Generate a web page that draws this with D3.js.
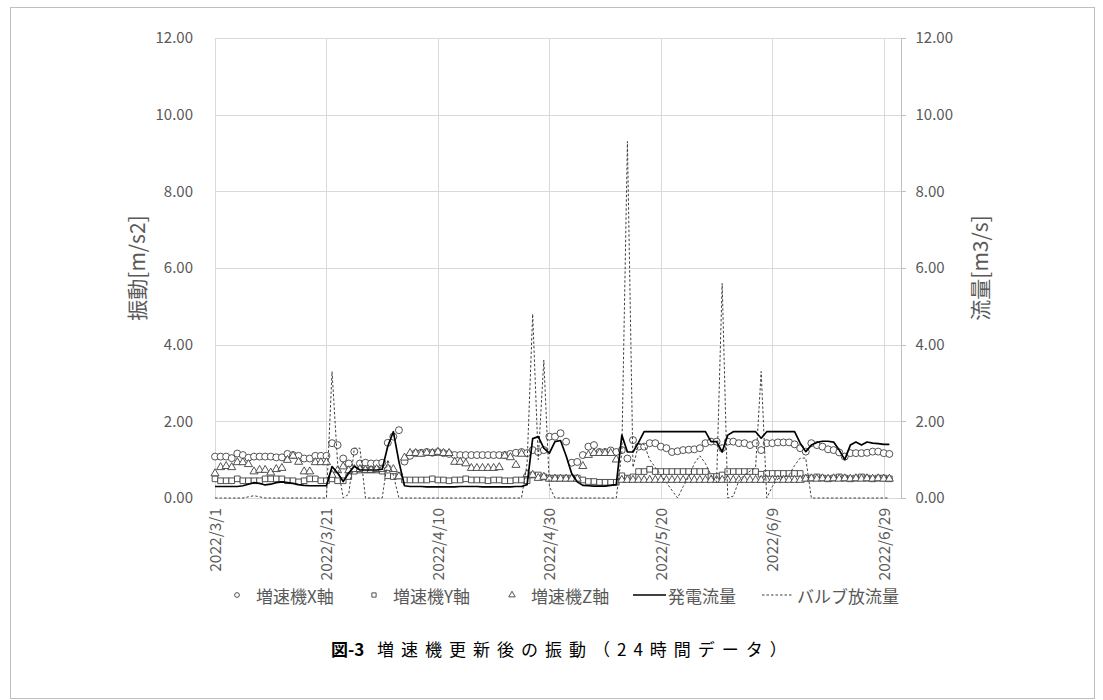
<!DOCTYPE html>
<html>
<head>
<meta charset="utf-8">
<script src="https://cdn.jsdelivr.net/npm/d3@7"></script>
<style>
  html, body { margin: 0; padding: 0; background: #fff; }
  svg { display: block; }
  text { font-family: "Noto Sans CJK JP", "Noto Sans", sans-serif; }
</style>
</head>
<body>
<svg id="chart" width="1103" height="700"></svg>
<script>
// Daily readings from 2022/3/1 onward (one value per day)
const startDate = "2022/3/1";
const endDate = "2022/7/2";

// 増速機X軸 vibration [m/s2]
const gearX = [
  1.08, 1.08, 1.08, 1.04, 1.16, 1.12, 1.05, 1.08, 1.08, 1.08,
  1.08, 1.06, 1.06, 1.15, 1.12, 1.10, 1.03, 1.03, 1.10, 1.10,
  1.10, 1.43, 1.38, 1.03, 0.90, 1.21, 0.90, 0.92, 0.90, 0.90,
  0.92, 1.44, 1.60, 1.77, 0.95, 1.10, 1.17, 1.18, 1.20, 1.18,
  1.20, 1.17, 1.15, 1.12, 1.12, 1.12, 1.12, 1.12, 1.12, 1.12,
  1.12, 1.12, 1.12, 1.15, 1.18, 1.20, 1.17, 1.25, 1.20, 1.25,
  1.60, 1.60, 1.69, 1.47, 0.92, 0.94, 1.12, 1.34, 1.38, 1.20,
  1.20, 1.24, 1.20, 1.25, 1.03, 1.51, 1.34, 1.34, 1.43, 1.43,
  1.34, 1.30, 1.20, 1.22, 1.25, 1.26, 1.27, 1.30, 1.43, 1.47,
  1.47, 1.30, 1.47, 1.47, 1.43, 1.43, 1.38, 1.43, 1.25, 1.43,
  1.43, 1.45, 1.45, 1.45, 1.40, 1.30, 1.21, 1.43, 1.38, 1.34,
  1.27, 1.25, 1.19, 1.08, 1.17, 1.17, 1.17, 1.18, 1.21, 1.21,
  1.17, 1.15
];

// 増速機Y軸 vibration [m/s2]
const gearY = [
  0.50, 0.45, 0.45, 0.45, 0.50, 0.45, 0.45, 0.45, 0.45, 0.50,
  0.50, 0.50, 0.50, 0.45, 0.45, 0.42, 0.45, 0.50, 0.50, 0.45,
  0.45, 0.50, 0.45, 0.45, 0.56, 0.70, 0.73, 0.73, 0.73, 0.73,
  0.70, 0.58, 0.56, 0.58, 0.47, 0.47, 0.47, 0.47, 0.47, 0.50,
  0.47, 0.47, 0.45, 0.47, 0.47, 0.50, 0.47, 0.47, 0.47, 0.45,
  0.47, 0.47, 0.45, 0.45, 0.47, 0.47, 0.45, 0.60, 0.60, 0.55,
  0.52, 0.52, 0.52, 0.52, 0.52, 0.52, 0.47, 0.43, 0.43, 0.41,
  0.41, 0.41, 0.41, 0.58, 0.52, 0.55, 0.69, 0.69, 0.75, 0.69,
  0.69, 0.69, 0.69, 0.69, 0.69, 0.69, 0.69, 0.69, 0.69, 0.56,
  0.56, 0.60, 0.69, 0.69, 0.69, 0.69, 0.69, 0.69, 0.62, 0.64,
  0.64, 0.64, 0.64, 0.64, 0.64, 0.64, 0.52, 0.52, 0.55, 0.52,
  0.50, 0.52, 0.55, 0.52, 0.50, 0.52, 0.55, 0.52, 0.50, 0.52,
  0.52, 0.50
];

// 増速機Z軸 vibration [m/s2]
const gearZ = [
  0.64, 0.80, 0.83, 0.80, 0.93, 0.93, 0.88, 0.69, 0.73, 0.73,
  0.66, 0.75, 0.78, 0.99, 1.10, 0.94, 0.69, 0.69, 0.93, 0.93,
  0.93, 0.60, 0.72, 0.82, 0.72, 0.75, 0.75, 0.73, 0.73, 0.75,
  0.75, 0.78, 0.75, 0.56, 1.05, 1.17, 1.17, 1.15, 1.18, 1.17,
  1.20, 1.17, 1.17, 0.94, 0.94, 0.90, 0.78, 0.78, 0.78, 0.78,
  0.78, 0.80, 1.10, 1.06, 0.86, 1.15, 0.62, 0.60, 0.52, 0.55,
  0.50, 0.50, 0.50, 0.50, 0.50, 0.50, 0.83, 1.12, 1.17, 1.17,
  1.17, 1.17, 1.00, 0.47, 0.47, 0.47, 0.47, 0.47, 0.47, 0.47,
  0.47, 0.47, 0.47, 0.47, 0.47, 0.47, 0.47, 0.47, 0.47, 0.47,
  0.47, 0.47, 0.47, 0.47, 0.47, 0.47, 0.47, 0.47, 0.47, 0.47,
  0.47, 0.47, 0.47, 0.47, 0.47, 0.47, 0.50, 0.51, 0.50, 0.51,
  0.50, 0.51, 0.50, 0.51, 0.50, 0.51, 0.50, 0.51, 0.50, 0.51,
  0.50, 0.50
];

// 発電流量 [m3/s]
const genFlow = [
  0.30, 0.30, 0.30, 0.30, 0.30, 0.32, 0.36, 0.40, 0.38, 0.34,
  0.36, 0.40, 0.42, 0.40, 0.38, 0.35, 0.33, 0.32, 0.32, 0.32,
  0.32, 0.82, 0.65, 0.43, 0.65, 0.83, 0.73, 0.73, 0.73, 0.73,
  0.75, 1.35, 1.73, 0.95, 0.32, 0.30, 0.30, 0.30, 0.29, 0.29,
  0.29, 0.29, 0.29, 0.29, 0.30, 0.30, 0.30, 0.30, 0.29, 0.29,
  0.29, 0.29, 0.29, 0.29, 0.30, 0.30, 0.35, 1.55, 1.60, 1.30,
  1.17, 1.47, 1.50, 1.10, 0.64, 0.42, 0.33, 0.32, 0.31, 0.31,
  0.31, 0.33, 0.35, 1.64, 1.20, 1.20, 1.45, 1.73, 1.73, 1.73,
  1.73, 1.73, 1.73, 1.73, 1.73, 1.73, 1.73, 1.73, 1.73, 1.47,
  1.47, 1.20, 1.64, 1.73, 1.73, 1.73, 1.73, 1.73, 1.56, 1.73,
  1.73, 1.73, 1.73, 1.73, 1.73, 1.43, 1.21, 1.38, 1.45, 1.48,
  1.48, 1.46, 1.25, 1.00, 1.38, 1.46, 1.38, 1.46, 1.43, 1.42,
  1.40, 1.40
];

// バルブ放流量 [m3/s]
const valveFlow = [
  0.00, 0.00, 0.00, 0.00, 0.00, 0.00, 0.03, 0.06, 0.03, 0.00,
  0.00, 0.00, 0.00, 0.00, 0.00, 0.00, 0.00, 0.00, 0.00, 0.00,
  0.00, 3.30, 0.90, 0.00, 0.10, 1.30, 1.30, 0.00, 0.00, 0.00,
  0.00, 1.00, 0.60, 0.00, 0.00, 0.00, 0.00, 0.00, 0.00, 0.00,
  0.00, 0.00, 0.00, 0.00, 0.00, 0.00, 0.00, 0.00, 0.00, 0.00,
  0.00, 0.00, 0.00, 0.00, 0.00, 0.00, 0.90, 4.80, 1.00, 3.60,
  0.30, 0.00, 0.00, 0.00, 0.00, 0.00, 0.00, 0.00, 0.00, 0.00,
  0.00, 0.00, 0.00, 1.20, 9.30, 0.80, 1.40, 1.40, 1.00, 0.80,
  0.60, 0.40, 0.20, 0.00, 0.30, 0.55, 0.90, 1.10, 0.90, 0.60,
  0.40, 5.60, 0.00, 0.05, 0.45, 0.60, 0.70, 0.80, 3.30, 0.00,
  0.30, 0.50, 0.55, 0.60, 0.85, 1.04, 1.04, 0.00, 0.00, 0.00,
  0.00, 0.00, 0.00, 0.00, 0.00, 0.00, 0.00, 0.00, 0.00, 0.00,
  0.00, 0.00
];

const xTickLabels = ["2022/3/1", "2022/3/21", "2022/4/10", "2022/4/30", "2022/5/20", "2022/6/9", "2022/6/29"];
const yTickValues = [0, 2, 4, 6, 8, 10, 12];
const seriesNames = ["増速機X軸", "増速機Y軸", "増速機Z軸", "発電流量", "バルブ放流量"];
const leftTitle = "振動[m/s2]";
const rightTitle = "流量[m3/s]";
const captionHead = "図-3";
const captionBody = "増速機更新後の振動（24時間データ）";

const parseDate = d3.timeParse("%Y/%-m/%-d");
const fmtTick = d3.timeFormat("%Y/%-m/%-d");
const t0 = parseDate(startDate);
const dates = gearX.map((_, i) => d3.timeDay.offset(t0, i));

const svg = d3.select("#chart");
const W = 1103, H = 700;
const plot = { left: 215, right: 900.5, top: 38, bottom: 498 };

svg.append("rect").attr("x", 0).attr("y", 0).attr("width", W).attr("height", H).attr("fill", "#fff");
// outer frame
svg.append("rect").attr("x", 10.5).attr("y", 7.5).attr("width", 1084).attr("height", 691)
  .attr("fill", "none").attr("stroke", "#bfbfbf").attr("stroke-width", 1);

const x = d3.scaleTime().domain([t0, parseDate(endDate)]).range([plot.left, plot.right]);
const yL = d3.scaleLinear().domain([0, 12]).range([plot.bottom, plot.top]);
const yR = d3.scaleLinear().domain([0, 12]).range([plot.bottom, plot.top]);

const tickDates = xTickLabels.map(parseDate);
const gridColor = "#d9d9d9";
const labelColor = "#595959";
const numFont = "'Noto Sans', sans-serif";

// horizontal gridlines
svg.append("g")
  .attr("transform", `translate(${plot.left},0)`)
  .call(d3.axisLeft(yL).tickValues(yTickValues).tickSize(-(plot.right - plot.left)).tickFormat(""))
  .call(g => g.select(".domain").remove())
  .call(g => g.selectAll(".tick line").attr("stroke", gridColor).attr("stroke-width", 1).attr("shape-rendering", "crispEdges"));

// vertical gridlines at date ticks
svg.append("g")
  .attr("transform", `translate(0,${plot.bottom})`)
  .call(d3.axisBottom(x).tickValues(tickDates).tickSize(-(plot.bottom - plot.top)).tickFormat(""))
  .call(g => g.select(".domain").remove())
  .call(g => g.selectAll(".tick line").attr("stroke", gridColor).attr("stroke-width", 1).attr("shape-rendering", "crispEdges"));

// left axis labels
svg.append("g")
  .attr("transform", `translate(${plot.left},0)`)
  .call(d3.axisLeft(yL).tickValues(yTickValues).tickSize(0).tickPadding(22).tickFormat(d3.format(".2f")))
  .call(g => g.select(".domain").attr("stroke", gridColor))
  .call(g => g.selectAll(".tick text").attr("fill", labelColor).attr("font-size", 15)
    .attr("font-family", numFont));

// right axis with outward ticks
svg.append("g")
  .attr("transform", `translate(${plot.right},0)`)
  .call(d3.axisRight(yR).tickValues(yTickValues).tickSize(5).tickPadding(10).tickFormat(d3.format(".2f")))
  .call(g => g.select(".domain").attr("stroke", "#bfbfbf").attr("shape-rendering", "crispEdges"))
  .call(g => g.selectAll(".tick line").attr("stroke", "#bfbfbf").attr("shape-rendering", "crispEdges"))
  .call(g => g.selectAll(".tick text").attr("fill", labelColor).attr("font-size", 15)
    .attr("font-family", numFont));

// bottom axis: rotated date labels
const xAxisG = svg.append("g")
  .attr("transform", `translate(0,${plot.bottom})`)
  .call(d3.axisBottom(x).tickValues(tickDates).tickSize(0).tickFormat(fmtTick))
  .call(g => g.select(".domain").attr("stroke", gridColor).attr("shape-rendering", "crispEdges"));
xAxisG.selectAll(".tick text")
  .attr("fill", labelColor).attr("font-size", 15.5).attr("font-family", numFont)
  .attr("transform", "rotate(-90)")
  .attr("text-anchor", "end")
  .attr("dy", "0.35em")
  .attr("dx", 0)
  .attr("x", -10)
  .attr("y", 0);

// axis titles
svg.append("text").attr("transform", "translate(136,268) rotate(-90)")
  .attr("text-anchor", "middle").attr("dominant-baseline", "central")
  .attr("fill", labelColor).attr("font-size", 21).text(leftTitle);
svg.append("text").attr("transform", "translate(979,268) rotate(-90)")
  .attr("text-anchor", "middle").attr("dominant-baseline", "central")
  .attr("fill", labelColor).attr("font-size", 21).text(rightTitle);

// marker symbols
const markStroke = "#404040";
const circleSym = d3.symbol().type(d3.symbolCircle).size(38);
const squareSym = d3.symbol().type(d3.symbolSquare).size(32);
const triSym = d3.symbol().type(d3.symbolTriangle).size(28);

function drawMarkers(values, sym, cls) {
  svg.append("g").attr("class", cls)
    .selectAll("path").data(values).join("path")
    .attr("d", sym)
    .attr("transform", (v, i) => `translate(${x(dates[i])},${yL(v)})`)
    .attr("fill", "#fff").attr("stroke", markStroke).attr("stroke-width", 0.9);
}
drawMarkers(gearX, circleSym, "gx");
drawMarkers(gearY, squareSym, "gy");
drawMarkers(gearZ, triSym, "gz");

// flow lines on the secondary axis
const lineR = d3.line().x((v, i) => x(dates[i])).y(v => yR(v));
svg.append("path").datum(valveFlow).attr("d", lineR)
  .attr("fill", "none").attr("stroke", "#404040").attr("stroke-width", 1).attr("stroke-dasharray", "2.5,2");
svg.append("path").datum(genFlow).attr("d", lineR)
  .attr("fill", "none").attr("stroke", "#000").attr("stroke-width", 1.7).attr("stroke-linejoin", "round");

// legend
const legY = 595;
const legend = svg.append("g").attr("font-size", 17).attr("fill", labelColor);
const legendItems = [
  { name: seriesNames[0], kind: "m", sym: circleSym, mx: 237, tx: 256 },
  { name: seriesNames[1], kind: "m", sym: squareSym, mx: 374, tx: 393 },
  { name: seriesNames[2], kind: "m", sym: triSym, mx: 512, tx: 531 },
  { name: seriesNames[3], kind: "solid", x1: 633, x2: 666, tx: 668 },
  { name: seriesNames[4], kind: "dash", x1: 762, x2: 793, tx: 797 }
];
legendItems.forEach(it => {
  if (it.kind === "m") {
    legend.append("path").attr("d", it.sym.size(18)())
      .attr("transform", `translate(${it.mx},${legY})`)
      .attr("fill", "#fff").attr("stroke", markStroke).attr("stroke-width", 0.9);
  } else {
    legend.append("line").attr("x1", it.x1).attr("x2", it.x2).attr("y1", legY).attr("y2", legY)
      .attr("stroke", it.kind === "solid" ? "#000" : "#404040")
      .attr("stroke-width", it.kind === "solid" ? 1.7 : 1)
      .attr("stroke-dasharray", it.kind === "solid" ? null : "2.5,2");
  }
  legend.append("text").attr("x", it.tx).attr("y", legY).attr("dominant-baseline", "central")
    .attr("fill", labelColor).text(it.name);
});

// caption
const cap = svg.append("text").attr("x", 331).attr("y", 648).attr("dominant-baseline", "central")
  .attr("font-size", 17).attr("fill", "#000");
cap.append("tspan").attr("font-weight", "bold").text(captionHead);
cap.append("tspan").attr("x", 377).attr("letter-spacing", 7).text(captionBody);
</script>
</body>
</html>
